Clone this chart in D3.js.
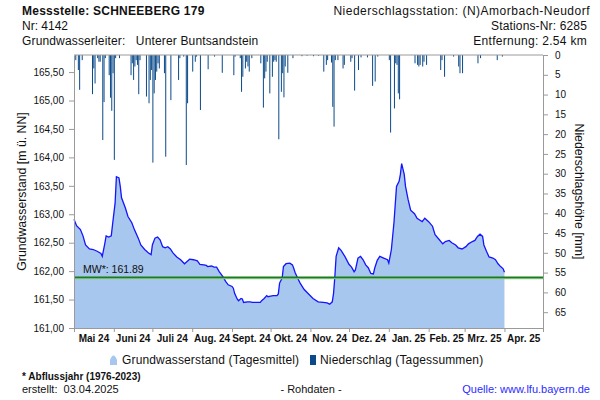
<!DOCTYPE html>
<html>
<head>
<meta charset="utf-8">
<script src="https://cdn.jsdelivr.net/npm/d3@7"></script>
<style>
body { margin: 0; background: #fff; }
svg { font-family: "Liberation Sans", Arial, sans-serif; display: block; }
</style>
</head>
<body>
<svg id="chart"></svg>
<script>
//groundwater level, daily means [m ü. NN]
var gwDates = ["2024-05-01","2024-05-03","2024-05-06","2024-05-08","2024-05-10","2024-05-13","2024-05-16","2024-05-19","2024-05-22","2024-05-23",
	"2024-05-25","2024-05-26","2024-05-28","2024-05-30","2024-05-31","2024-06-02","2024-06-03","2024-06-05","2024-06-06","2024-06-07",
	"2024-06-10","2024-06-12","2024-06-15","2024-06-17","2024-06-20","2024-06-22","2024-06-25","2024-06-28","2024-06-30","2024-07-01",
	"2024-07-03","2024-07-05","2024-07-07","2024-07-09","2024-07-11","2024-07-13","2024-07-15","2024-07-17","2024-07-20","2024-07-23",
	"2024-07-26","2024-07-28","2024-07-30","2024-08-02","2024-08-05","2024-08-07","2024-08-10","2024-08-12","2024-08-13","2024-08-16",
	"2024-08-18","2024-08-20","2024-08-22","2024-08-25","2024-08-27","2024-08-29","2024-09-01","2024-09-02","2024-09-03","2024-09-05",
	"2024-09-06","2024-09-08","2024-09-09","2024-09-10","2024-09-13","2024-09-15","2024-09-17","2024-09-20","2024-09-23","2024-09-24",
	"2024-09-26","2024-09-28","2024-09-29","2024-10-01","2024-10-03","2024-10-06","2024-10-07","2024-10-08","2024-10-10","2024-10-11",
	"2024-10-13","2024-10-16","2024-10-18","2024-10-19","2024-10-20","2024-10-22","2024-10-24","2024-10-27","2024-10-30","2024-11-03",
	"2024-11-07","2024-11-11","2024-11-14","2024-11-16","2024-11-18","2024-11-19","2024-11-20","2024-11-21","2024-11-23","2024-11-25",
	"2024-11-28","2024-12-01","2024-12-03","2024-12-05","2024-12-06","2024-12-08","2024-12-10","2024-12-12","2024-12-14","2024-12-16",
	"2024-12-18","2024-12-20","2024-12-21","2024-12-23","2024-12-25","2024-12-28","2024-12-31","2025-01-01","2025-01-03","2025-01-05",
	"2025-01-07","2025-01-09","2025-01-10","2025-01-11","2025-01-13","2025-01-14","2025-01-16","2025-01-18","2025-01-21","2025-01-23",
	"2025-01-25","2025-01-27","2025-01-29","2025-02-01","2025-02-04","2025-02-06","2025-02-09","2025-02-12","2025-02-14","2025-02-17",
	"2025-02-19","2025-02-22","2025-02-24","2025-02-27","2025-03-02","2025-03-04","2025-03-07","2025-03-09","2025-03-11","2025-03-13",
	"2025-03-15","2025-03-16","2025-03-18","2025-03-20","2025-03-23","2025-03-25","2025-03-27","2025-03-29","2025-03-31","2025-04-01"];
var gwValues = [162.91,162.80,162.73,162.62,162.46,162.39,162.38,162.35,162.31,162.26,
	162.49,162.62,162.60,162.62,162.82,163.20,163.66,163.64,163.49,163.29,
	163.11,162.96,162.85,162.73,162.58,162.46,162.38,162.32,162.29,162.46,
	162.58,162.60,162.55,162.43,162.41,162.43,162.39,162.32,162.25,162.20,
	162.13,162.17,162.21,162.20,162.18,162.12,162.11,162.10,162.08,162.09,
	162.07,162.07,161.99,161.90,161.82,161.76,161.73,161.70,161.61,161.51,
	161.48,161.52,161.51,161.45,161.46,161.46,161.45,161.45,161.45,161.48,
	161.52,161.57,161.55,161.56,161.57,161.57,161.60,161.79,161.88,162.08,
	162.13,162.14,162.11,162.05,161.98,161.88,161.79,161.68,161.61,161.52,
	161.46,161.45,161.44,161.42,161.46,161.61,161.90,162.26,162.41,162.36,
	162.25,162.12,162.07,161.99,162.02,162.23,162.26,162.20,162.11,162.06,
	161.96,161.95,162.05,162.19,162.26,162.23,162.20,162.14,162.38,162.85,
	163.49,163.58,163.70,163.89,163.70,163.49,163.26,163.07,163.01,162.93,
	162.90,162.87,162.93,162.87,162.79,162.64,162.56,162.48,162.52,162.54,
	162.50,162.46,162.41,162.39,162.43,162.48,162.52,162.54,162.61,162.65,
	162.61,162.46,162.35,162.25,162.23,162.20,162.13,162.08,162.04,161.98];

//precipitation, daily sums [mm]
var rainDates = ["2024-05-02","2024-05-04","2024-05-05","2024-05-07","2024-05-15","2024-05-16","2024-05-17","2024-05-19","2024-05-20","2024-05-21",
	"2024-05-23","2024-05-24","2024-05-25","2024-05-28","2024-05-29","2024-05-30","2024-05-31","2024-06-01","2024-06-02","2024-06-05",
	"2024-06-14","2024-06-15","2024-06-16","2024-06-17","2024-06-18","2024-06-19","2024-06-20","2024-06-21","2024-06-26","2024-06-28",
	"2024-06-29","2024-06-30","2024-07-01","2024-07-02","2024-07-03","2024-07-04","2024-07-05","2024-07-06","2024-07-10","2024-07-11",
	"2024-07-15","2024-07-21","2024-07-22","2024-07-25","2024-07-27","2024-07-28","2024-08-01","2024-08-03","2024-08-04","2024-08-07",
	"2024-08-13","2024-08-18","2024-08-24","2024-09-02","2024-09-03","2024-09-07","2024-09-08","2024-09-09","2024-09-11","2024-09-12",
	"2024-09-13","2024-09-14","2024-09-16","2024-09-23","2024-09-25","2024-09-26","2024-09-27","2024-09-28","2024-09-30","2024-10-02",
	"2024-10-03","2024-10-04","2024-10-05","2024-10-07","2024-10-09","2024-10-10","2024-10-11","2024-10-12","2024-10-14","2024-10-18",
	"2024-10-25","2024-10-29","2024-11-03","2024-11-07","2024-11-11","2024-11-13","2024-11-14","2024-11-17","2024-11-18","2024-11-19",
	"2024-11-20","2024-11-22","2024-11-26","2024-11-27","2024-12-02","2024-12-03","2024-12-05","2024-12-08","2024-12-10","2024-12-15",
	"2024-12-19","2024-12-21","2024-12-23","2025-01-01","2025-01-02","2025-01-05","2025-01-06","2025-01-07","2025-01-08","2025-01-09",
	"2025-01-21","2025-01-23","2025-01-24","2025-01-25","2025-01-27","2025-01-28","2025-01-30","2025-02-10","2025-02-11","2025-02-13",
	"2025-02-20","2025-02-24","2025-02-25","2025-02-27","2025-03-11","2025-03-13","2025-03-26","2025-03-30"];
var rainValues = [1.3,3.8,8.8,1.3,9.9,3.4,7.2,0.8,1.7,1.7,
	21.5,11.9,0.8,5.1,10.8,14.1,4.6,26.5,0.8,0.8,
	5.1,2.1,6.3,2.9,1.3,2.5,9.9,1.3,10.5,12.2,
	6.3,3.8,27.2,9.7,6.3,4.2,2.1,3.4,4.6,25.7,
	11.4,6.3,0.8,0.4,27.8,12.2,4.2,1.7,0.4,13.9,
	3.6,0.4,4.5,5.1,0.4,0.8,9.3,5.5,3.4,1.7,
	2.9,4.2,0.8,2.1,13.3,5.9,4.2,1.7,9.7,5.5,
	1.7,1.3,1.7,21.3,9.3,4.6,10.7,2.9,4.5,0.8,
	0.3,0.2,0.3,0.2,4.2,2.5,1.3,1.9,13.1,18.1,
	1.3,1.3,3.4,2.5,1.7,0.8,9.0,3.8,0.6,0.6,
	7.8,6.7,0.4,1.3,19.6,13.5,2.1,2.5,9.7,11.2,
	2.1,2.5,2.9,2.5,2.9,1.7,2.5,3.8,1.3,5.5,
	0.4,2.9,4.6,4.6,2.1,0.8,1.3,0.4];

//axes
var leftTicks = [161, 161.5, 162, 162.5, 163, 163.5, 164, 164.5, 165, 165.5];
var rightTicks = [0, 5, 10, 15, 20, 25, 30, 35, 40, 45, 50, 55, 60, 65];
var monthStarts = ["2024-05-01","2024-06-01","2024-07-01","2024-08-01","2024-09-01","2024-10-01","2024-11-01",
	"2024-12-01","2025-01-01","2025-02-01","2025-03-01","2025-04-01","2025-05-01"];
var monthLabels = ["Mai 24","Juni 24","Juli 24","Aug. 24","Sept. 24","Okt. 24","Nov. 24",
	"Dez. 24","Jan. 25","Feb. 25","Mrz. 25","Apr. 25"];
var meanValue = 161.89;

//canvas info
var width = 600;
var height = 400;
var plotLeft = 74, plotRight = 543, plotTop = 55, plotBottom = 328;

var parse = d3.utcParse("%Y-%m-%d");
var axisColor = "#9a9a9a";

var svg = d3.select("#chart")
	.attr("width", width)
	.attr("height", height);

svg.append("rect").attr("width", width).attr("height", height).attr("fill", "#fff");

var x = d3.scaleUtc()
	.domain([parse(monthStarts[0]), parse(monthStarts[monthStarts.length - 1])])
	.range([plotLeft, plotRight]);
var yGw = d3.scaleLinear().domain([161, 165.8]).range([plotBottom, plotTop]);
var yRain = d3.scaleLinear().domain([0, 69]).range([plotTop, plotBottom]);

//groundwater area + line
var gw = gwDates.map(function(d, i) { return {date: parse(d), v: gwValues[i]}; });

var area = d3.area()
	.x(function(d) { return x(d.date); })
	.y0(yGw(161))
	.y1(function(d) { return yGw(d.v); });
var line = d3.line()
	.x(function(d) { return x(d.date); })
	.y(function(d) { return yGw(d.v); });

svg.append("path").datum(gw).attr("d", area).attr("fill", "#a7c7ee");
svg.append("path").datum(gw).attr("d", line)
	.attr("fill", "none").attr("stroke", "#1414ff").attr("stroke-width", 1.3);

//mean line
svg.append("line")
	.attr("x1", plotLeft).attr("x2", plotRight)
	.attr("y1", yGw(meanValue) + 1.2).attr("y2", yGw(meanValue) + 1.2)
	.attr("stroke", "#8fd08f").attr("stroke-width", 1.2);
svg.append("line")
	.attr("x1", plotLeft).attr("x2", plotRight)
	.attr("y1", yGw(meanValue)).attr("y2", yGw(meanValue))
	.attr("stroke", "#1d7a1d").attr("stroke-width", 1.8);
svg.append("text")
	.attr("x", plotLeft + 9).attr("y", yGw(meanValue) - 4)
	.attr("font-size", 10.5).attr("fill", "#111")
	.text("MW*: " + d3.format(".2f")(meanValue));

//precipitation bars from the top
svg.append("g").selectAll("rect")
	.data(rainDates.map(function(d, i) { return {date: parse(d), v: rainValues[i]}; }))
	.enter().append("rect")
	.attr("x", function(d) { return x(d.date); })
	.attr("y", yRain(0))
	.attr("width", 1)
	.attr("height", function(d) { return yRain(d.v) - yRain(0); })
	.attr("fill", "#0b4a8a");

//frame
svg.append("line").attr("x1", plotLeft).attr("x2", plotRight).attr("y1", plotTop).attr("y2", plotTop)
	.attr("stroke", axisColor);

function styleAxis(g) {
	g.select(".domain").attr("stroke", axisColor);
	g.selectAll(".tick line").attr("stroke", axisColor);
	g.selectAll(".tick text").attr("fill", "#111").attr("font-size", 10)
		.attr("font-family", "Liberation Sans, Arial, sans-serif");
}

var gl = svg.append("g")
	.attr("transform", "translate(" + plotLeft + ",0)")
	.call(d3.axisLeft(yGw).tickValues(leftTicks).tickSize(5).tickSizeOuter(0).tickPadding(5)
		.tickFormat(function(d) { return d3.format(".2f")(d).replace(".", ","); }));
styleAxis(gl);

var gr = svg.append("g")
	.attr("transform", "translate(" + plotRight + ",0)")
	.call(d3.axisRight(yRain).tickValues(rightTicks).tickSize(5).tickSizeOuter(0).tickPadding(7));
styleAxis(gr);

var gb = svg.append("g")
	.attr("transform", "translate(0," + plotBottom + ")")
	.call(d3.axisBottom(x).tickValues(monthStarts.map(parse)).tickSize(4).tickSizeOuter(0)
		.tickFormat(""));
styleAxis(gb);

//month labels centred between the month ticks
svg.append("g").selectAll("text")
	.data(monthLabels)
	.enter().append("text")
	.attr("x", function(d, i) { return (x(parse(monthStarts[i])) + x(parse(monthStarts[i + 1]))) / 2; })
	.attr("y", plotBottom + 14)
	.attr("text-anchor", "middle")
	.attr("font-size", 10).attr("font-weight", "bold").attr("fill", "#111")
	.text(function(d) { return d; });

//axis titles
svg.append("text")
	.attr("transform", "translate(26," + (plotTop + plotBottom) / 2 + ") rotate(-90)")
	.attr("text-anchor", "middle").attr("font-size", 12.3).attr("fill", "#111")
	.text("Grundwasserstand [m ü. NN]");
svg.append("text")
	.attr("transform", "translate(575," + (plotTop + plotBottom) / 2 + ") rotate(90)")
	.attr("text-anchor", "middle").attr("font-size", 12.3).attr("fill", "#111")
	.text("Niederschlagshöhe [mm]");

//header
function label(tx, ty, t, opts) {
	var el = svg.append("text").attr("x", tx).attr("y", ty)
		.attr("font-size", opts.size || 12).attr("fill", opts.color || "#111")
		.style("white-space", "pre")
		.text(t);
	if (opts.bold) el.attr("font-weight", "bold");
	if (opts.anchor) el.attr("text-anchor", opts.anchor);
	if (opts.spacing) el.attr("letter-spacing", opts.spacing);
	return el;
}
label(22, 15, "Messstelle: SCHNEEBERG 179", {bold: true, spacing: 0.25});
label(22, 30, "Nr: 4142", {});
label(22, 45, "Grundwasserleiter:   Unterer Buntsandstein", {spacing: 0.15});
label(590, 15, "Niederschlagsstation: (N)Amorbach-Neudorf", {anchor: "end", spacing: 0.5});
label(587, 30, "Stations-Nr: 6285", {anchor: "end", spacing: 0.15});
label(587, 45, "Entfernung: 2.54 km", {anchor: "end", spacing: 0.3});

//legend
svg.append("path")
	.attr("d", "M110,365 L110,360 Q113.5,351 117,360 L117,365 Z")
	.attr("fill", "#a7c7ee");
label(122, 364, "Grundwasserstand (Tagesmittel)", {spacing: 0.15});
svg.append("rect").attr("x", 310).attr("y", 355).attr("width", 6).attr("height", 10).attr("fill", "#0b4a8a");
label(320, 364, "Niederschlag (Tagessummen)", {spacing: 0.15});

//footer
label(22, 380, "* Abflussjahr (1976-2023)", {size: 10, bold: true});
label(22, 393, "erstellt:  03.04.2025", {size: 11});
label(311, 393, "- Rohdaten -", {size: 11, anchor: "middle"});
label(590, 393, "Quelle: www.lfu.bayern.de", {size: 11, anchor: "end", color: "#2b2bff"});
</script>
</body>
</html>
